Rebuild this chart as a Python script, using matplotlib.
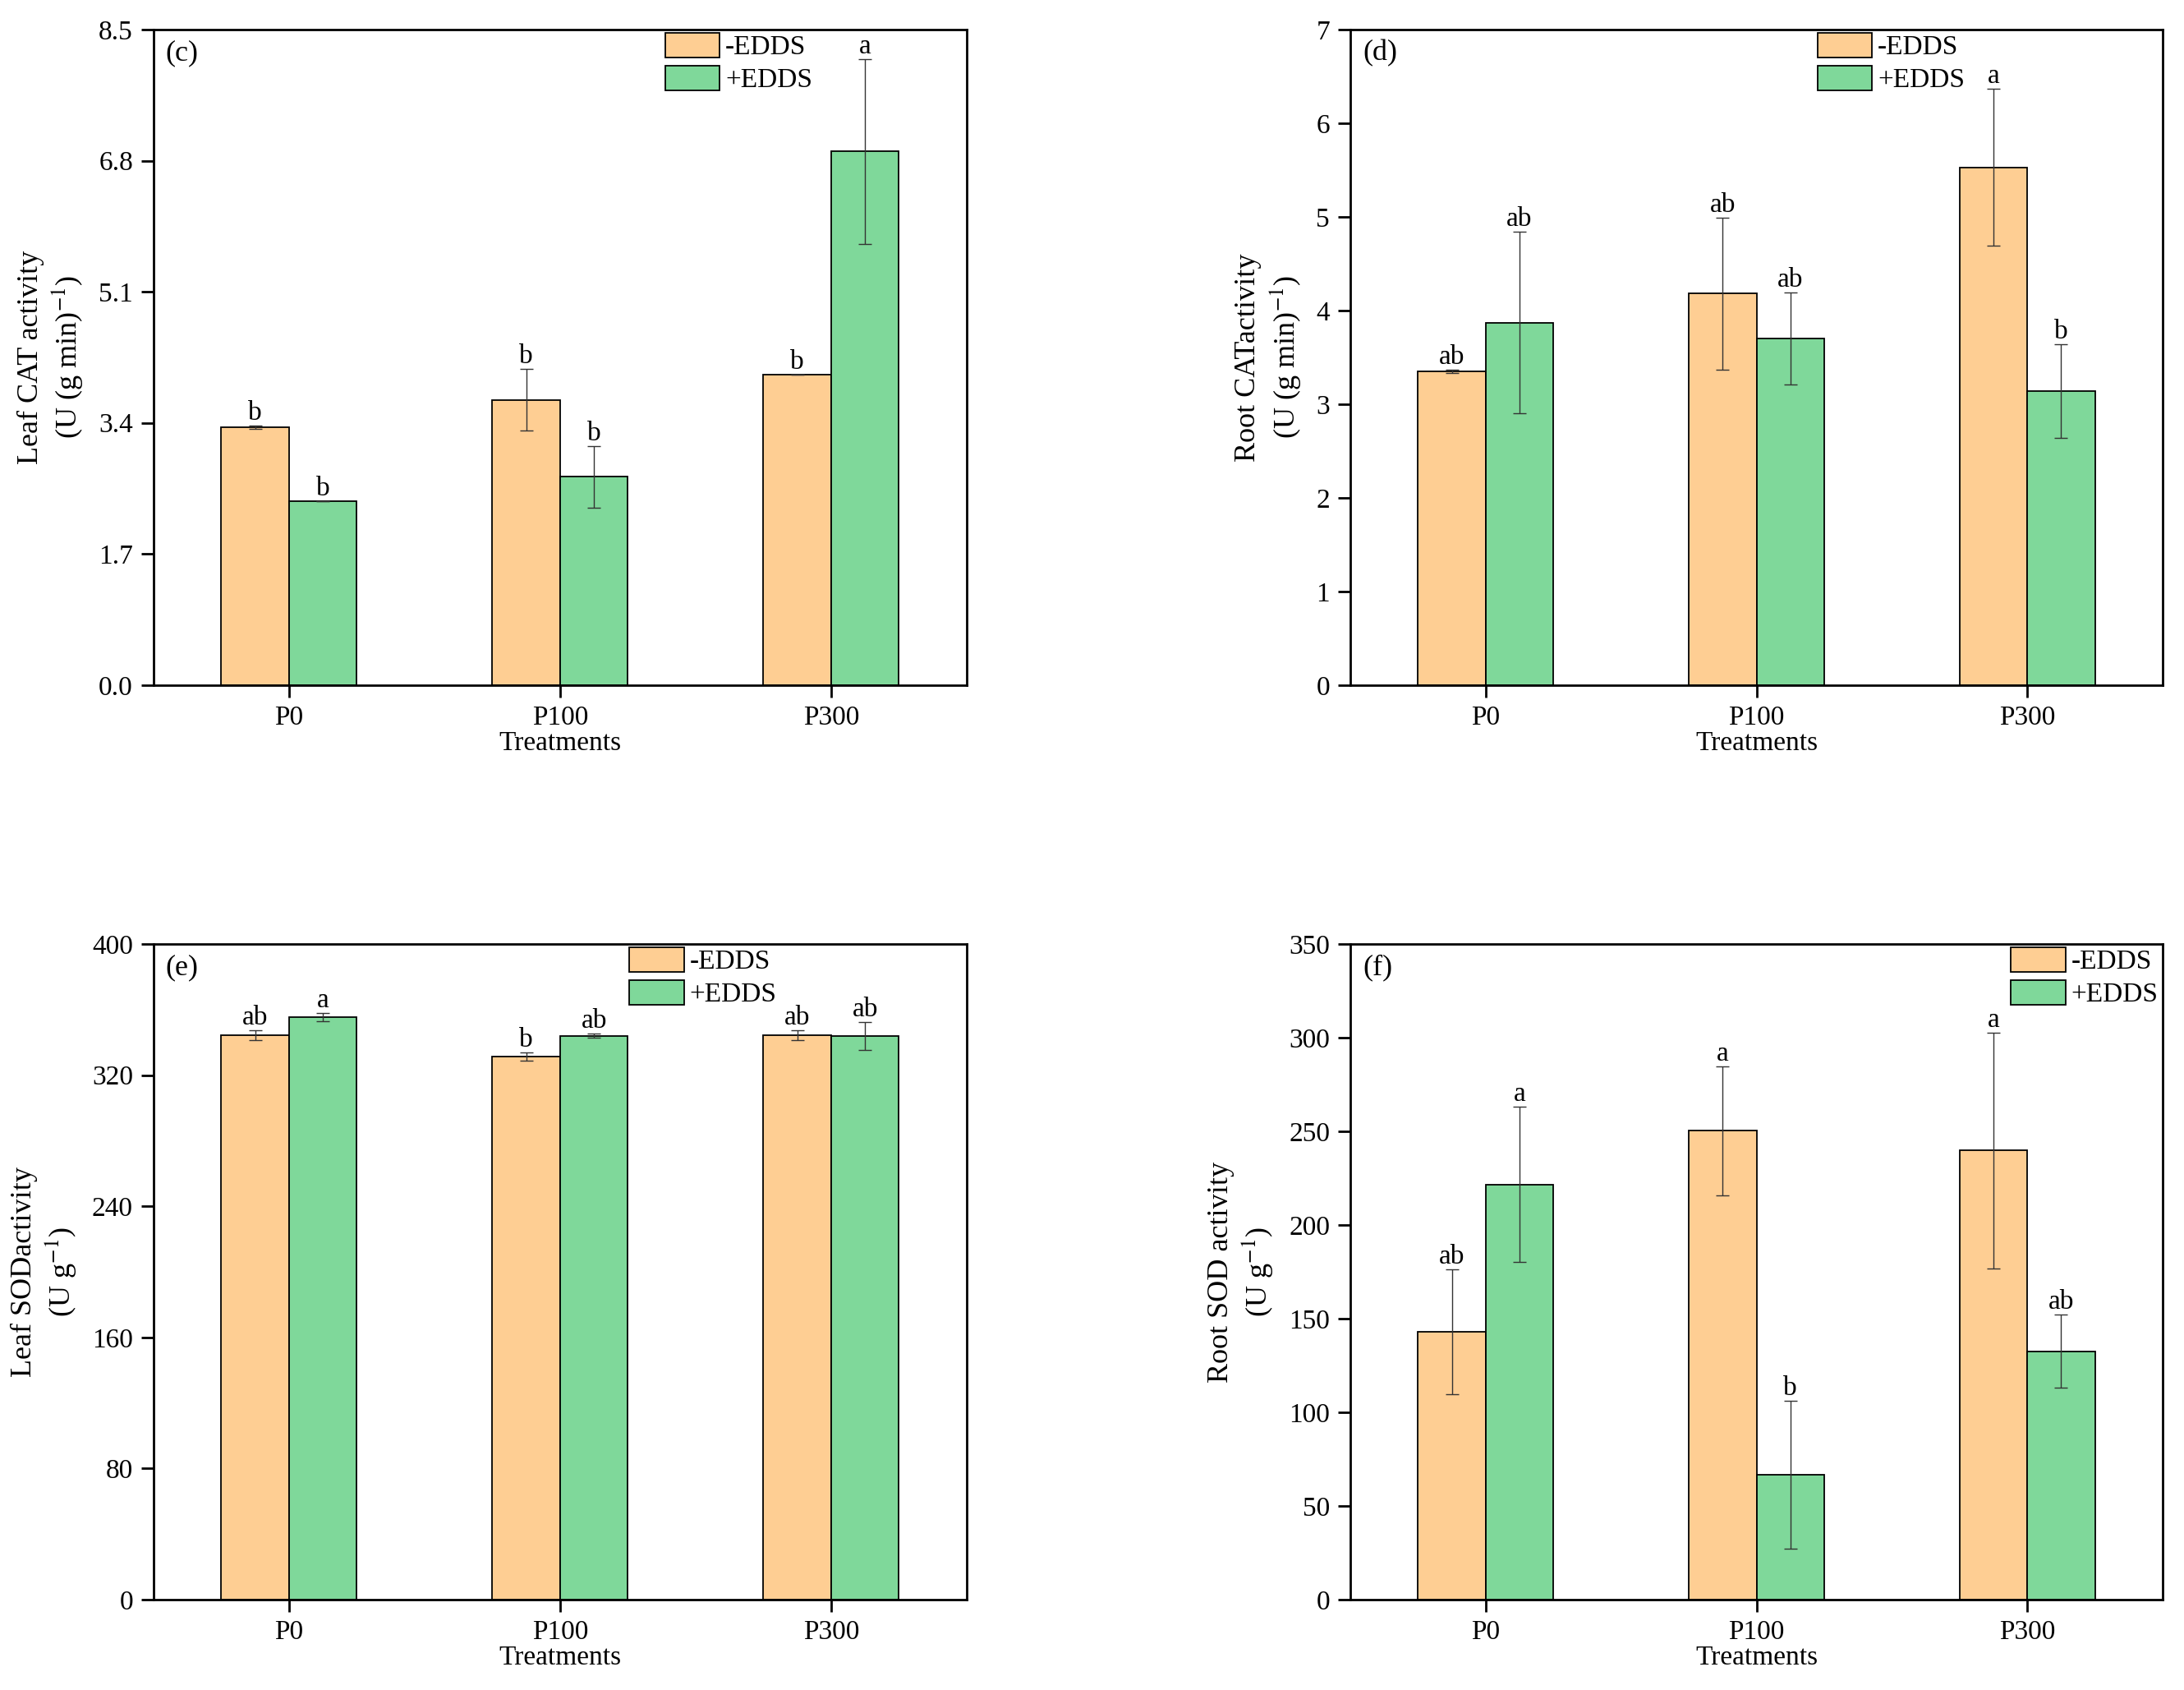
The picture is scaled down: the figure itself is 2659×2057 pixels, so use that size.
import numpy as np
import matplotlib.pyplot as plt

plt.rcParams['font.family'] = ['Liberation Serif', 'DejaVu Serif']
plt.rcParams['mathtext.fontset'] = 'stix'

treatments = ['P0', 'P100', 'P300']
series = ['-EDDS', '+EDDS']
col_minus = '#FECE93'
col_plus = '#7FD89A'

# (c) leaf CAT
leaf_cat_minus = [3.34, 3.70, 4.03]
leaf_cat_minus_err = [0.02, 0.40, 0.0]
leaf_cat_plus = [2.38, 2.70, 6.92]
leaf_cat_plus_err = [0.0, 0.40, 1.20]
leaf_cat_let_minus = ['b', 'b', 'b']
leaf_cat_let_plus = ['b', 'b', 'a']

# (d) root CAT
root_cat_minus = [3.35, 4.18, 5.53]
root_cat_minus_err = [0.02, 0.81, 0.84]
root_cat_plus = [3.87, 3.70, 3.14]
root_cat_plus_err = [0.97, 0.49, 0.50]
root_cat_let_minus = ['ab', 'ab', 'a']
root_cat_let_plus = ['ab', 'ab', 'b']

# (e) leaf SOD
leaf_sod_minus = [344.4, 331.2, 344.4]
leaf_sod_minus_err = [3.0, 2.6, 3.0]
leaf_sod_plus = [355.4, 344.1, 343.8]
leaf_sod_plus_err = [2.6, 1.2, 8.4]
leaf_sod_let_minus = ['ab', 'b', 'ab']
leaf_sod_let_plus = ['a', 'ab', 'ab']

# (f) root SOD
root_sod_minus = [143.0, 250.3, 239.8]
root_sod_minus_err = [33.5, 34.4, 63.0]
root_sod_plus = [221.7, 66.6, 132.6]
root_sod_plus_err = [41.5, 39.6, 19.4]
root_sod_let_minus = ['ab', 'a', 'a']
root_sod_let_plus = ['a', 'b', 'ab']

panels = [
    # tag, rect, ylabel, yticks, fmt, data..., legend x
    ('(c)', [0.0703, 0.5946, 0.3723, 0.3879], 'Leaf CAT activity\n(U (g min)$^{-1}$)',
     np.arange(0, 8.51, 1.7), '%.1f',
     leaf_cat_minus, leaf_cat_minus_err, leaf_cat_plus, leaf_cat_plus_err,
     leaf_cat_let_minus, leaf_cat_let_plus, 0.629),
    ('(d)', [0.6183, 0.5946, 0.3719, 0.3879], 'Root CATactivity\n(U (g min)$^{-1}$)',
     np.arange(0, 7.1, 1), '%d',
     root_cat_minus, root_cat_minus_err, root_cat_plus, root_cat_plus_err,
     root_cat_let_minus, root_cat_let_plus, 0.575),
    ('(e)', [0.0703, 0.0535, 0.3723, 0.3879], 'Leaf SODactivity\n(U g$^{-1}$)',
     np.arange(0, 401, 80), '%d',
     leaf_sod_minus, leaf_sod_minus_err, leaf_sod_plus, leaf_sod_plus_err,
     leaf_sod_let_minus, leaf_sod_let_plus, 0.585),
    ('(f)', [0.6183, 0.0535, 0.3719, 0.3879], 'Root SOD activity\n(U g$^{-1}$)',
     np.arange(0, 351, 50), '%d',
     root_sod_minus, root_sod_minus_err, root_sod_plus, root_sod_plus_err,
     root_sod_let_minus, root_sod_let_plus, 0.813),
]

fig = plt.figure(figsize=(26.59, 20.57), dpi=100)
x = np.arange(len(treatments))
w = 0.25
fs = 24

for tag, rect, ylab, yt, fmt, vm, em, vp, ep, lm, lp, legx in panels:
    ax = fig.add_axes(rect)
    ax.bar(x - w/2, vm, w, color=col_minus, edgecolor='black', linewidth=1.3, label=series[0], zorder=2)
    ax.bar(x + w/2, vp, w, color=col_plus, edgecolor='black', linewidth=1.3, label=series[1], zorder=2)
    ax.errorbar(x - w/2, vm, yerr=em, fmt='none', ecolor='#333333', elinewidth=1, capsize=6, capthick=1, zorder=3)
    ax.errorbar(x + w/2, vp, yerr=ep, fmt='none', ecolor='#333333', elinewidth=1, capsize=6, capthick=1, zorder=3)
    for i in range(len(x)):
        ax.annotate(lm[i], (x[i] - w/2, vm[i] + em[i]), xytext=(0, 0), textcoords='offset points',
                    ha='center', va='bottom', fontsize=fs)
        ax.annotate(lp[i], (x[i] + w/2, vp[i] + ep[i]), xytext=(0, 0), textcoords='offset points',
                    ha='center', va='bottom', fontsize=fs)

    ax.set_xlim(-0.5, 2.5)
    ax.set_ylim(yt[0], yt[-1])
    ax.set_yticks(yt)
    ax.set_yticklabels([fmt % v for v in yt])
    ax.set_xticks(x)
    ax.set_xticklabels(treatments)
    ax.set_xlabel('Treatments', fontsize=fs, labelpad=0)
    ax.set_ylabel(ylab, fontsize=26, labelpad=12)
    ax.tick_params(axis='both', direction='out', length=11, width=2, labelsize=fs, pad=7)
    for s in ax.spines.values():
        s.set_linewidth(2)
    ax.text(0.015, 0.985, tag, transform=ax.transAxes, ha='left', va='top', fontsize=26)
    ax.legend(loc='upper left', bbox_to_anchor=(legx, 0.995), frameon=False, fontsize=fs,
              handlelength=2.0, handleheight=1.0, handletextpad=0.2, labelspacing=0.2,
              borderpad=0, borderaxespad=0)

fig.savefig('out.png', dpi=100)
